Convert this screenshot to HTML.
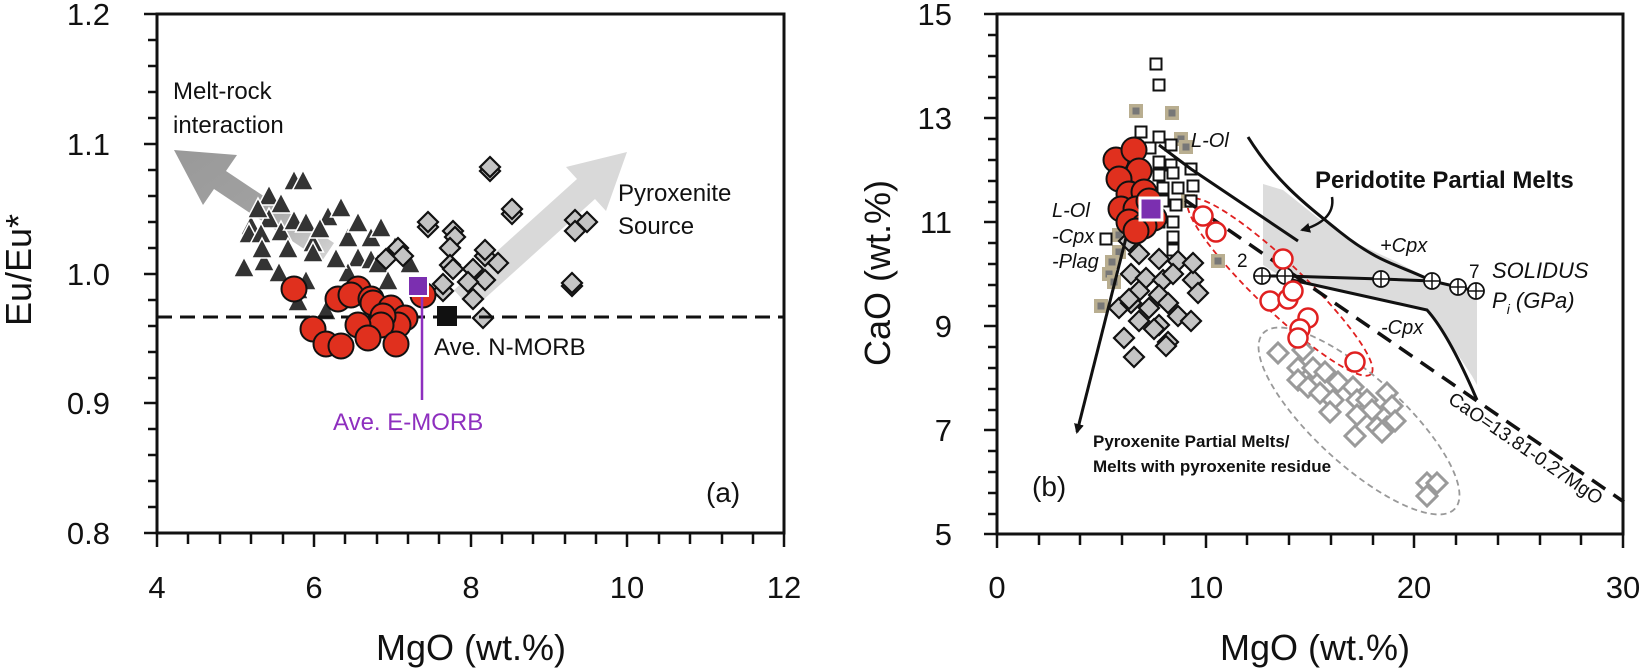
<!DOCTYPE html>
<html><head><meta charset="utf-8"><style>
html,body{margin:0;padding:0;background:#fff}
svg{display:block}
text{font-family:"Liberation Sans",Arial,sans-serif;fill:#111}
</style></head><body>
<svg width="1642" height="669" viewBox="0 0 1642 669" xmlns="http://www.w3.org/2000/svg">
<defs>
<polygon id="tri" points="0,-12 10.5,8 -10.5,8" fill="#333" stroke="#fff" stroke-width="1.5"/>
<polygon id="dia" points="0,-10 10,0 0,10 -10,0" fill="#c4c4c4" stroke="#111" stroke-width="2.2"/>
<polygon id="odia" points="0,-10 10,0 0,10 -10,0" fill="#fff" stroke="#9a9a9a" stroke-width="3"/>
<circle id="rc" r="12.5" fill="#e0301e" stroke="#111" stroke-width="2"/>
<circle id="orc" r="9.5" fill="#fff" stroke="#e02020" stroke-width="2.5"/>
<rect id="osq" x="-5.5" y="-5.5" width="11" height="11" fill="#fff" stroke="#111" stroke-width="2"/>
<g id="tsq"><rect x="-7" y="-7" width="14" height="14" fill="#b9ae90"/><rect x="-3.5" y="-3.5" width="7" height="7" fill="#777"/></g>
<g id="cp"><circle r="8" fill="#fff" stroke="#111" stroke-width="1.8"/><path d="M-8,0H8M0,-8V8" stroke="#111" stroke-width="1.5"/></g>
<linearGradient id="ga" x1="1" y1="1" x2="0" y2="0"><stop offset="0" stop-color="#d6d6d6"/><stop offset="0.5" stop-color="#a0a0a0"/><stop offset="1" stop-color="#999"/></linearGradient>
<marker id="ah" markerWidth="10" markerHeight="10" refX="8" refY="5" orient="auto" markerUnits="userSpaceOnUse"><path d="M0,0L10,5L0,10z" fill="#111"/></marker>
</defs>

<!-- ===== Panel A ===== -->
<g stroke="#111" stroke-width="3" fill="none">
<path d="M157,14H784V533H157Z"/>
</g>
<g stroke="#111" stroke-width="2.5">
<path d="M144,14H157M144,144H157M144,274H157M144,403H157M144,533H157"/>
<path d="M148,40H157M148,66H157M148,92H157M148,118H157M148,170H157M148,196H157M148,222H157M148,248H157M148,300H157M148,326H157M148,352H157M148,378H157M148,429H157M148,455H157M148,481H157M148,507H157"/>
<path d="M157,533V547M314,533V547M471,533V547M627,533V547M784,533V547"/>
<path d="M188,533V544M220,533V544M251,533V544M283,533V544M345,533V544M377,533V544M408,533V544M439,533V544M502,533V544M533,533V544M565,533V544M596,533V544M659,533V544M690,533V544M722,533V544M753,533V544"/>
</g>
<g font-size="31" text-anchor="end">
<text x="110" y="25">1.2</text><text x="110" y="155">1.1</text><text x="110" y="285">1.0</text><text x="110" y="414">0.9</text><text x="110" y="544">0.8</text>
</g>
<g font-size="31" text-anchor="middle">
<text x="157" y="598">4</text><text x="314" y="598">6</text><text x="471" y="598">8</text><text x="627" y="598">10</text><text x="784" y="598">12</text>
</g>
<text x="471" y="660" font-size="36" text-anchor="middle">MgO (wt.%)</text>
<text transform="translate(31,270) rotate(-90)" font-size="36" text-anchor="middle">Eu/Eu*</text>

<polygon points="334,243 226,171 237,155 174,150 203,205 214,189 322,261" fill="url(#ga)"/>
<polygon points="472,310 595,199 606,211 627,152 566,167 577,179 454,290" fill="#d9d9d9"/>

<g>
<use href="#tri" x="294" y="182"/><use href="#tri" x="303" y="182"/><use href="#tri" x="269" y="197"/><use href="#tri" x="281" y="205"/>
<use href="#tri" x="251" y="227"/><use href="#tri" x="269" y="220"/><use href="#tri" x="281" y="233"/><use href="#tri" x="249" y="235"/>
<use href="#tri" x="261" y="235"/><use href="#tri" x="294" y="222"/><use href="#tri" x="306" y="224"/><use href="#tri" x="313" y="244"/>
<use href="#tri" x="328" y="218"/><use href="#tri" x="341" y="209"/><use href="#tri" x="348" y="239"/><use href="#tri" x="358" y="224"/>
<use href="#tri" x="371" y="239"/><use href="#tri" x="381" y="229"/><use href="#tri" x="358" y="259"/><use href="#tri" x="371" y="261"/>
<use href="#tri" x="244" y="269"/><use href="#tri" x="264" y="263"/><use href="#tri" x="279" y="274"/><use href="#tri" x="306" y="282"/>
<use href="#tri" x="313" y="254"/><use href="#tri" x="348" y="274"/><use href="#tri" x="378" y="265"/><use href="#tri" x="410" y="265"/>
<use href="#tri" x="298" y="303"/><use href="#tri" x="326" y="312"/><use href="#tri" x="298" y="291"/><use href="#tri" x="388" y="282"/>
<use href="#tri" x="258" y="210"/><use href="#tri" x="288" y="250"/><use href="#tri" x="336" y="260"/><use href="#tri" x="395" y="248"/>
<use href="#tri" x="320" y="230"/><use href="#tri" x="262" y="250"/>
</g>
<g>
<use href="#dia" x="490" y="171"/><use href="#dia" x="490" y="167"/><use href="#dia" x="512" y="214"/><use href="#dia" x="512" y="209"/>
<use href="#dia" x="428" y="227"/><use href="#dia" x="428" y="222"/><use href="#dia" x="453" y="231"/><use href="#dia" x="455" y="237"/>
<use href="#dia" x="450" y="248"/><use href="#dia" x="450" y="265"/><use href="#dia" x="453" y="269"/><use href="#dia" x="473" y="269"/>
<use href="#dia" x="485" y="256"/><use href="#dia" x="485" y="250"/><use href="#dia" x="485" y="280"/><use href="#dia" x="443" y="291"/>
<use href="#dia" x="443" y="284"/><use href="#dia" x="473" y="299"/><use href="#dia" x="483" y="318"/><use href="#dia" x="575" y="220"/>
<use href="#dia" x="587" y="222"/><use href="#dia" x="575" y="231"/><use href="#dia" x="572" y="286"/><use href="#dia" x="572" y="283"/>
<use href="#dia" x="398" y="248"/><use href="#dia" x="403" y="256"/><use href="#dia" x="386" y="259"/><use href="#dia" x="468" y="282"/><use href="#dia" x="498" y="263"/>
</g>
<line x1="157" y1="317" x2="784" y2="317" stroke="#111" stroke-width="3" stroke-dasharray="15,8"/>
<g>
<use href="#rc" x="294" y="289"/><use href="#rc" x="423" y="295"/><use href="#rc" x="338" y="299"/><use href="#rc" x="358" y="289"/>
<use href="#rc" x="351" y="295"/><use href="#rc" x="371" y="299"/><use href="#rc" x="373" y="303"/><use href="#rc" x="391" y="308"/>
<use href="#rc" x="405" y="318"/><use href="#rc" x="398" y="325"/><use href="#rc" x="383" y="316"/><use href="#rc" x="381" y="325"/>
<use href="#rc" x="358" y="325"/><use href="#rc" x="368" y="338"/><use href="#rc" x="313" y="329"/><use href="#rc" x="326" y="344"/>
<use href="#rc" x="341" y="346"/><use href="#rc" x="396" y="344"/>
</g>
<line x1="422" y1="296" x2="422" y2="400" stroke="#8e2fbf" stroke-width="2.5"/>
<rect x="408" y="276" width="20" height="20" fill="#7b2fb0" stroke="#fff" stroke-width="2"/>
<rect x="437" y="306" width="20" height="20" fill="#111"/>
<text x="333" y="430" font-size="24" style="fill:#8e2fbf">Ave. E-MORB</text>
<text x="434" y="355" font-size="24">Ave. N-MORB</text>
<g font-size="24">
<text x="173" y="99">Melt-rock</text><text x="173" y="133">interaction</text>
<text x="618" y="201">Pyroxenite</text><text x="618" y="234">Source</text>
<text x="706" y="502" font-size="28">(a)</text>
</g>

<!-- ===== Panel B ===== -->
<polygon points="1263,184 1283,190 1318,218 1358,244 1397,262 1427,278 1477,291 1477,385 1472,376 1447,338 1427,310 1283,278 1263,265" fill="#dcdcdc"/>
<g stroke="#111" stroke-width="3" fill="none">
<path d="M997,14H1623V534H997Z"/>
</g>
<g stroke="#111" stroke-width="2.5">
<path d="M984,14H997M984,118H997M984,222H997M984,326H997M984,430H997M984,534H997"/>
<path d="M988,35H997M988,56H997M988,77H997M988,98H997M988,139H997M988,160H997M988,181H997M988,202H997M988,243H997M988,264H997M988,285H997M988,306H997M988,347H997M988,368H997M988,389H997M988,410H997M988,451H997M988,472H997M988,493H997M988,514H997"/>
<path d="M997,534V548M1206,534V548M1414,534V548M1623,534V548"/>
<path d="M1039,534V545M1080,534V545M1122,534V545M1164,534V545M1247,534V545M1289,534V545M1331,534V545M1373,534V545M1456,534V545M1498,534V545M1540,534V545M1581,534V545"/>
</g>
<g font-size="31" text-anchor="end">
<text x="952" y="25">15</text><text x="952" y="129">13</text><text x="952" y="233">11</text><text x="952" y="337">9</text><text x="952" y="441">7</text><text x="952" y="545">5</text>
</g>
<g font-size="31" text-anchor="middle">
<text x="997" y="598">0</text><text x="1206" y="598">10</text><text x="1414" y="598">20</text><text x="1623" y="598">30</text>
</g>
<text x="1315" y="660" font-size="36" text-anchor="middle">MgO (wt.%)</text>
<text transform="translate(890,273) rotate(-90)" font-size="36" text-anchor="middle">CaO (wt.%)</text>

<ellipse cx="1280" cy="287" rx="126" ry="24" transform="rotate(43.7 1280 287)" fill="none" stroke="#e02020" stroke-width="1.8" stroke-dasharray="6,4"/>
<ellipse cx="1359" cy="421" rx="130" ry="44" transform="rotate(42.4 1359 421)" fill="none" stroke="#999" stroke-width="1.8" stroke-dasharray="6,4"/>

<g>
<use href="#tsq" x="1136" y="111"/><use href="#tsq" x="1172" y="113"/><use href="#tsq" x="1101" y="306"/><use href="#tsq" x="1218" y="261"/>
<use href="#tsq" x="1119" y="252"/><use href="#tsq" x="1109" y="274"/><use href="#tsq" x="1114" y="282"/><use href="#tsq" x="1181" y="139"/>
<use href="#tsq" x="1186" y="147"/><use href="#tsq" x="1119" y="235"/><use href="#tsq" x="1188" y="201"/><use href="#tsq" x="1112" y="262"/>
</g>
<g>
<use href="#osq" x="1156" y="64"/><use href="#osq" x="1159" y="85"/><use href="#osq" x="1141" y="132"/><use href="#osq" x="1159" y="137"/>
<use href="#osq" x="1171" y="145"/><use href="#osq" x="1159" y="162"/><use href="#osq" x="1171" y="165"/><use href="#osq" x="1159" y="175"/>
<use href="#osq" x="1173" y="173"/><use href="#osq" x="1191" y="169"/><use href="#osq" x="1193" y="186"/><use href="#osq" x="1163" y="188"/>
<use href="#osq" x="1178" y="188"/><use href="#osq" x="1191" y="201"/><use href="#osq" x="1163" y="201"/><use href="#osq" x="1176" y="205"/>
<use href="#osq" x="1159" y="222"/><use href="#osq" x="1173" y="222"/><use href="#osq" x="1173" y="237"/><use href="#osq" x="1173" y="250"/>
<use href="#osq" x="1106" y="239"/><use href="#osq" x="1119" y="169"/><use href="#osq" x="1131" y="179"/><use href="#osq" x="1150" y="148"/>
</g>
<g>
<use href="#dia" x="1129" y="241"/><use href="#dia" x="1139" y="254"/><use href="#dia" x="1159" y="259"/><use href="#dia" x="1178" y="261"/>
<use href="#dia" x="1131" y="274"/><use href="#dia" x="1146" y="278"/><use href="#dia" x="1163" y="280"/><use href="#dia" x="1173" y="274"/>
<use href="#dia" x="1193" y="280"/><use href="#dia" x="1198" y="293"/><use href="#dia" x="1139" y="291"/><use href="#dia" x="1159" y="295"/>
<use href="#dia" x="1119" y="308"/><use href="#dia" x="1131" y="303"/><use href="#dia" x="1149" y="308"/><use href="#dia" x="1168" y="303"/>
<use href="#dia" x="1193" y="263"/><use href="#dia" x="1139" y="321"/><use href="#dia" x="1159" y="325"/><use href="#dia" x="1178" y="316"/>
<use href="#dia" x="1191" y="321"/><use href="#dia" x="1124" y="338"/><use href="#dia" x="1154" y="329"/><use href="#dia" x="1168" y="342"/>
<use href="#dia" x="1134" y="357"/><use href="#dia" x="1166" y="346"/><use href="#dia" x="1129" y="299"/>
</g>
<g>
<use href="#odia" x="1278" y="353"/><use href="#odia" x="1303" y="350"/><use href="#odia" x="1298" y="368"/><use href="#odia" x="1298" y="380"/>
<use href="#odia" x="1313" y="368"/><use href="#odia" x="1325" y="372"/><use href="#odia" x="1308" y="387"/><use href="#odia" x="1338" y="382"/>
<use href="#odia" x="1320" y="393"/><use href="#odia" x="1333" y="400"/><use href="#odia" x="1330" y="412"/><use href="#odia" x="1353" y="387"/>
<use href="#odia" x="1357" y="400"/><use href="#odia" x="1367" y="400"/><use href="#odia" x="1372" y="410"/><use href="#odia" x="1387" y="393"/>
<use href="#odia" x="1392" y="406"/><use href="#odia" x="1357" y="415"/><use href="#odia" x="1377" y="427"/><use href="#odia" x="1387" y="427"/>
<use href="#odia" x="1395" y="421"/><use href="#odia" x="1355" y="436"/><use href="#odia" x="1382" y="432"/><use href="#odia" x="1427" y="483"/>
<use href="#odia" x="1437" y="483"/><use href="#odia" x="1427" y="496"/>
</g>
<g fill="none" stroke="#111" stroke-width="3">
<path d="M1248,137 C1275,180 1300,200 1340,232 S1400,265 1432,281"/>
<path d="M1283,278 L1427,310 C1445,330 1462,365 1477,400"/>
<path d="M1159,145 L1191,169 L1298,241"/>
<path d="M1262,276 L1285,276 L1381,279 L1432,281 L1458,287 L1476,291"/>
<path d="M1129,226 L1077,432" marker-end="url(#ah)"/>
<path d="M1332,197 C1335,215 1320,225 1302,230" stroke-width="2.5" marker-end="url(#ah)"/>
</g>
<line x1="1185" y1="200" x2="1624" y2="502" stroke="#111" stroke-width="3.5" stroke-dasharray="16,10"/>
<g>
<use href="#cp" x="1262" y="276"/><use href="#cp" x="1285" y="276"/><use href="#cp" x="1381" y="279"/>
<use href="#cp" x="1432" y="281"/><use href="#cp" x="1458" y="287"/><use href="#cp" x="1476" y="291"/>
</g>
<g>
<use href="#orc" x="1203" y="216"/><use href="#orc" x="1216" y="232"/><use href="#orc" x="1283" y="259"/><use href="#orc" x="1270" y="301"/>
<use href="#orc" x="1288" y="299"/><use href="#orc" x="1293" y="291"/><use href="#orc" x="1308" y="318"/><use href="#orc" x="1300" y="329"/>
<use href="#orc" x="1298" y="338"/><use href="#orc" x="1355" y="362"/>
</g>
<g>
<use href="#rc" x="1116" y="160"/><use href="#rc" x="1134" y="150"/><use href="#rc" x="1139" y="171"/><use href="#rc" x="1119" y="179"/>
<use href="#rc" x="1129" y="194"/><use href="#rc" x="1144" y="192"/><use href="#rc" x="1121" y="209"/><use href="#rc" x="1136" y="209"/>
<use href="#rc" x="1149" y="201"/><use href="#rc" x="1129" y="222"/><use href="#rc" x="1154" y="218"/><use href="#rc" x="1144" y="226"/><use href="#rc" x="1136" y="231"/>
</g>
<rect x="1140" y="198" width="22" height="22" fill="#7b2fb0" stroke="#fff" stroke-width="3"/>

<g font-size="20" font-style="italic">
<text x="1191" y="147">L-Ol</text>
<text x="1052" y="217">L-Ol</text><text x="1052" y="243">-Cpx</text><text x="1052" y="268">-Plag</text>
<text x="1380" y="252">+Cpx</text>
<text x="1381" y="334">-Cpx</text>
<text x="1492" y="278" font-size="22">SOLIDUS</text>
<text x="1492" y="308" font-size="22">P<tspan font-size="14" dy="6">i</tspan><tspan dy="-6"> (GPa)</tspan></text>
</g>
<text x="1237" y="267" font-size="19">2</text>
<text x="1469" y="278" font-size="19">7</text>
<text x="1315" y="188" font-size="24" font-weight="bold">Peridotite Partial Melts</text>
<text x="1093" y="447" font-size="17" font-weight="bold">Pyroxenite Partial Melts/</text>
<text x="1093" y="472" font-size="17" font-weight="bold">Melts with pyroxenite residue</text>
<text x="1032" y="496" font-size="28">(b)</text>
<text transform="translate(1447,402) rotate(34.5)" font-size="19">CaO=13.81-0.27MgO</text>
</svg>
</body></html>
